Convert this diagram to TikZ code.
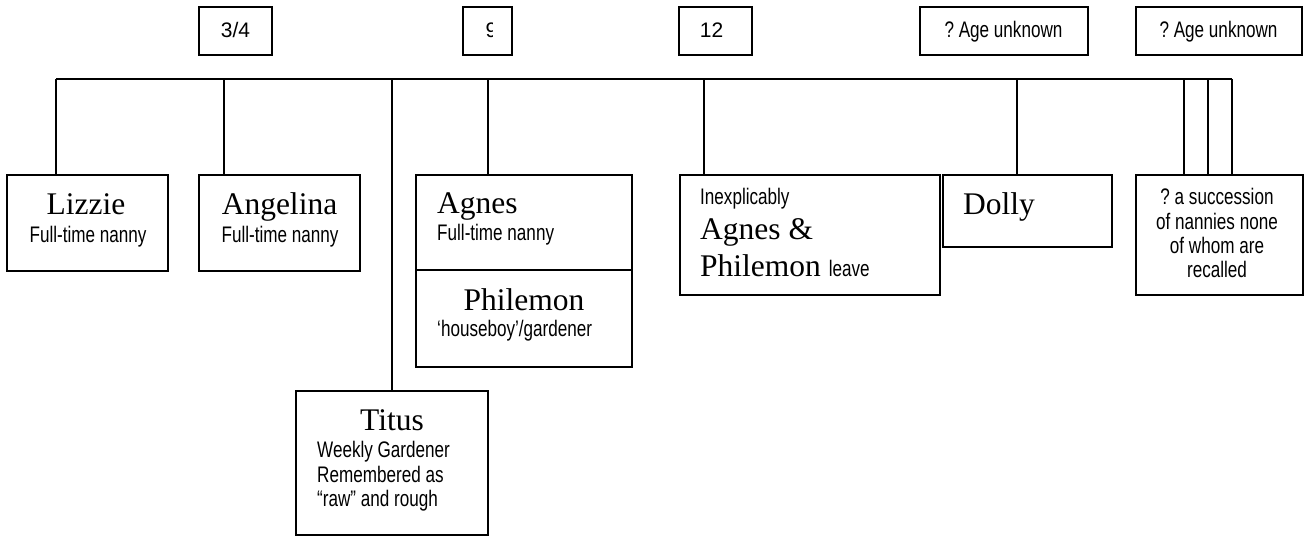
\documentclass[tikz,border=0pt]{standalone}
\usepackage{fontspec}
\setmainfont{Liberation Serif}
\newfontfamily\arialfont{Liberation Sans}
\newfontfamily\narrowfont[FakeStretch=0.76]{Liberation Sans}
\begin{document}
\begin{tikzpicture}[x=1pt,y=-1pt,
  box/.style={draw, line width=1.8pt, inner sep=0pt, outer sep=0pt},
  nm/.style={font=\fontsize{31.5}{36}\selectfont, inner sep=0pt},
  sub/.style={font=\narrowfont\fontsize{22.5}{24}\selectfont, inner sep=0pt},
  lbl/.style={font=\arialfont\fontsize{21}{24}\selectfont, inner sep=0pt},
  conn/.style={line width=1.7pt}]
\useasboundingbox (0,0) rectangle (1304,537);

% top age boxes
\node[box, minimum width=73pt, minimum height=48pt] (b34) at (235.5,31) {};
\node[lbl, anchor=base] (t34) at (235.5,38) {3/4};
\node[box, minimum width=49pt, minimum height=48pt] (b9) at (487.5,31) {};
\begin{scope}
\clip (470,10) rectangle (492.5,52);
\node[lbl, anchor=base west] (t9) at (485.3,38) {9};
\end{scope}
\node[box, minimum width=73pt, minimum height=48pt] (b12) at (715.5,31) {};
\node[lbl, anchor=base] (t12) at (711.5,38) {12};
\node[box, minimum width=168pt, minimum height=48pt] (ba1) at (1004,31) {};
\node[sub, anchor=base] (ta1) at (1003.5,38) {?~Age unknown};
\node[box, minimum width=166pt, minimum height=48pt] (ba2) at (1219,31) {};
\node[sub, anchor=base] (ta2) at (1218.5,38) {?~Age unknown};

% person boxes
\node[box, minimum width=161pt, minimum height=96pt] (lizzie) at (87.5,223) {};
\node[nm, anchor=base] (lizzieN) at (86,215) {Lizzie};
\node[sub, anchor=base] (lizzieS) at (88,243) {Full-time nanny};

\node[box, minimum width=161pt, minimum height=96pt] (angelina) at (279.5,223) {};
\node[nm, anchor=base] (angelinaN) at (279.5,215) {Angelina};
\node[sub, anchor=base] (angelinaS) at (280,243) {Full-time nanny};

\node[box, minimum width=216pt, minimum height=95pt] (agnes) at (524,222.5) {};
\node[nm, anchor=base west] (agnesN) at (437,214) {Agnes};
\node[sub, anchor=base west] (agnesS) at (437,241) {Full-time nanny};
\node[box, minimum width=216pt, minimum height=97pt] (philemon) at (524,318.5) {};
\node[nm, anchor=base] (philemonN) at (524,311) {Philemon};
\node[sub, anchor=base west] (philemonS) at (437,337) {‘houseboy’/gardener};

\node[box, minimum width=192pt, minimum height=144pt] (titus) at (392,463) {};
\node[nm, anchor=base] (titusN) at (392,430) {Titus};
\node[sub, anchor=base west] (titusS1) at (317,457) {Weekly Gardener};
\node[sub, anchor=base west] (titusS2) at (317,482) {Remembered as};
\node[sub, anchor=base west] (titusS3) at (317,506) {“raw” and rough};

\node[box, minimum width=260pt, minimum height=120pt] (leave) at (810,235) {};
\node[sub, anchor=base west] (leaveA) at (700,205) {Inexplicably};
\node[nm, anchor=base west] (leaveB) at (700,240) {Agnes \&};
\node[nm, anchor=base west] (leaveC) at (700,277) {Philemon {\narrowfont\fontsize{22.5}{24}\selectfont leave}};

\node[box, minimum width=169pt, minimum height=72pt] (dolly) at (1027.5,211) {};
\node[nm, anchor=base west] (dollyN) at (963,215) {Dolly};

\node[box, minimum width=167pt, minimum height=120pt] (succ) at (1219.5,235) {};
\node[sub, anchor=base] (succ1) at (1217,205) {?~a succession};
\node[sub, anchor=base] (succ2) at (1217,229.3) {of nannies none};
\node[sub, anchor=base] (succ3) at (1217,253.7) {of whom are};
\node[sub, anchor=base] (succ4) at (1217,278) {recalled};

% trunk and drops
\coordinate (jL) at (56,79);
\coordinate (jA) at (224,79);
\coordinate (jT) at (392,79);
\coordinate (jG) at (488,79);
\coordinate (jI) at (704,79);
\coordinate (jD) at (1017,79);
\coordinate (jS1) at (1184,79);
\coordinate (jS2) at (1208,79);
\coordinate (jS3) at (1232,79);
\draw[conn] (jL) -- (jS3);
\draw[conn] (jL) -- (jL |- lizzie.north);
\draw[conn] (jA) -- (jA |- angelina.north);
\draw[conn] (jT) -- (jT |- titus.north);
\draw[conn] (jG) -- (jG |- agnes.north);
\draw[conn] (jI) -- (jI |- leave.north);
\draw[conn] (jD) -- (jD |- dolly.north);
\draw[conn] (jS1) -- (jS1 |- succ.north);
\draw[conn] (jS2) -- (jS2 |- succ.north);
\draw[conn] (jS3) -- (jS3 |- succ.north);
\end{tikzpicture}
\end{document}
